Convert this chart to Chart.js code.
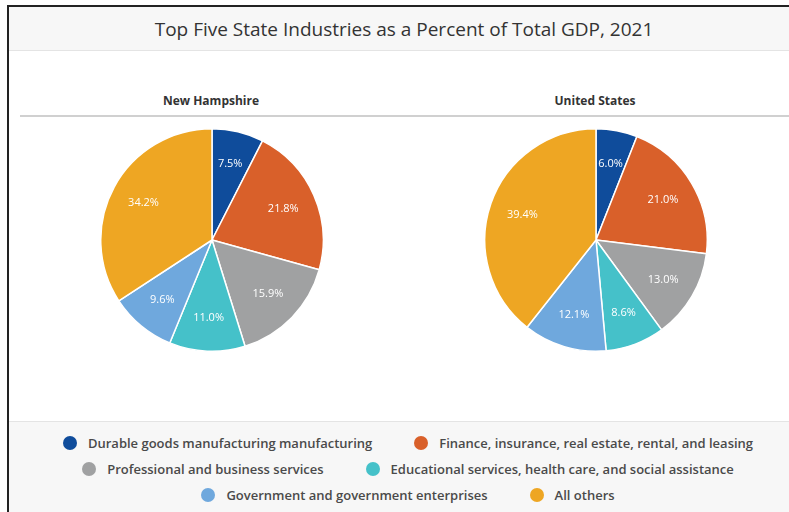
<!DOCTYPE html>
<html>
<head>
<meta charset="utf-8">
<script src="https://cdn.jsdelivr.net/npm/chart.js@4"></script>
<style>
  html, body { margin: 0; padding: 0; background: #fff; }
  body { width: 789px; height: 512px; position: relative; overflow: hidden; font-family: "Open Sans", "Noto Sans", sans-serif; }
  #frame { position: absolute; left: 7px; top: 5px; width: 790px; height: 520px; border-left: 2px solid #222; border-top: 2px solid #222; }
  #titleBar { position: absolute; left: 9px; top: 7px; width: 790px; height: 43px; background: #f7f7f7; border-bottom: 1px solid #e4e4e4; }
  #title { position: absolute; left: 0; width: 100%; top: 9px; text-align: center; font-size: 19px; color: #333; }
  .sub { position: absolute; top: 92px; width: 240px; text-align: center; font-size: 12px; font-weight: 700; color: #333; }
  #rule { position: absolute; left: 20px; top: 115px; width: 769px; height: 2px; background: #d0d0d0; }
  .pie { position: absolute; }
  #legendBar { position: absolute; left: 9px; top: 421px; width: 798px; height: 91px; background: #f7f7f7; border-top: 1px solid #e4e4e4; }
  .row { position: absolute; left: 0; width: 100%; display: flex; justify-content: center; }
  .item { display: flex; align-items: center; font-size: 13px; font-weight: 600; color: #4a4a4a; margin: 0 21px; white-space: nowrap; }
  .dot { width: 14px; height: 14px; border-radius: 50%; margin-right: 11px; }
</style>
</head>
<body>
<div id="frame"></div>
<div id="titleBar"><div id="title">Top Five State Industries as a Percent of Total GDP, 2021</div></div>
<div class="sub" id="sub0" style="left:91px">New Hampshire</div>
<div class="sub" id="sub1" style="left:475px">United States</div>
<div id="rule"></div>
<canvas id="pieNH" class="pie" width="224" height="224" style="left:100px;top:128px"></canvas>
<canvas id="pieUS" class="pie" width="224" height="224" style="left:484px;top:128px"></canvas>
<div id="legendBar"></div>
<script>
const categories = [
    "Durable goods manufacturing manufacturing",
    "Finance, insurance, real estate, rental, and leasing",
    "Professional and business services",
    "Educational services, health care, and social assistance",
    "Government and government enterprises",
    "All others"
];
const colors = ["#0f4c9b", "#d9602a", "#a0a1a2", "#45c1c9", "#6fa8dd", "#eea623"];
const nhValues = [7.5, 21.8, 15.9, 11.0, 9.6, 34.2];
const usValues = [6.0, 21.0, 13.0, 8.6, 12.1, 39.4];
const legendRows = [[0, 1], [2, 3], [4, 5]];

// draws the percent inside each slice
const sliceLabels = {
    id: 'sliceLabels',
    afterDatasetsDraw(chart) {
        const ctx = chart.ctx;
        const meta = chart.getDatasetMeta(0);
        ctx.save();
        ctx.fillStyle = '#fff';
        ctx.font = '11px "Open Sans", sans-serif';
        ctx.textAlign = 'center';
        ctx.textBaseline = 'middle';
        meta.data.forEach((arc, i) => {
            const p = arc.getProps(['x', 'y', 'startAngle', 'endAngle', 'outerRadius']);
            const mid = (p.startAngle + p.endAngle) / 2;
            const r = p.outerRadius * 0.7;
            ctx.fillText(chart.data.datasets[0].data[i].toFixed(1) + '%', p.x + Math.cos(mid) * r, p.y + Math.sin(mid) * r);
        });
        ctx.restore();
    }
};

function makePie(id, values) {
    return new Chart(document.getElementById(id), {
        type: 'pie',
        data: {
            labels: categories,
            datasets: [{
                data: values,
                backgroundColor: colors,
                borderColor: '#fff',
                borderWidth: 1.5
            }]
        },
        options: {
            responsive: false,
            animation: false,
            layout: { padding: 0 },
            plugins: {
                legend: { display: false },
                tooltip: { enabled: false }
            }
        },
        plugins: [sliceLabels]
    });
}

makePie('pieNH', nhValues);
makePie('pieUS', usValues);

// legend built from the same arrays
const legendBar = document.getElementById('legendBar');
legendRows.forEach((row, r) => {
    const div = document.createElement('div');
    div.className = 'row';
    div.style.top = (12 + r * 26) + 'px';
    row.forEach(i => {
        const item = document.createElement('div');
        item.className = 'item';
        item.innerHTML = `<span class="dot" style="background:${colors[i]}"></span>${categories[i]}`;
        div.appendChild(item);
    });
    legendBar.appendChild(div);
});
</script>
</body>
</html>
